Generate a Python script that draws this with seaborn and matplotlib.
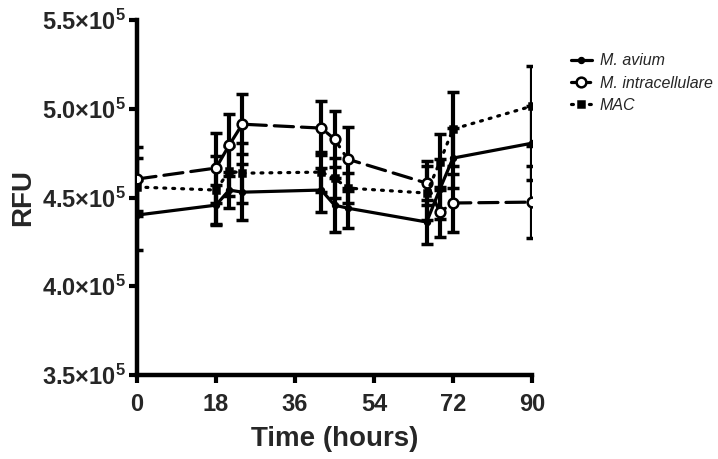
import matplotlib
matplotlib.use("Agg")
import matplotlib.pyplot as plt
import seaborn as sns
import pandas as pd
import numpy as np

# time points (hours)
hours = [0, 18, 21, 24, 42, 45, 48, 66, 69, 72, 90]

# mean RFU and error for each group
avium = [440100, 445700, 454200, 453000, 454200, 445700, 444000, 436200, 454700, 472200, 480600]
avium_err = [19700, 11300, 10100, 15800, 12400, 15200, 11300, 12400, 16900, 16900, 20800]

intra = [460400, 466600, 479500, 491300, 489100, 482900, 471600, 458100, 441800, 446900, 447400]
intra_err = [18000, 19700, 17500, 16900, 15200, 15800, 18000, 12400, 14100, 16300, 20300]

mac = [455900, 454200, 464900, 463700, 464300, 460900, 455300, 452500, 470000, 488500, 501500]
mac_err = [16300, 19100, 14100, 16900, 11300, 11300, 8400, 15200, 15800, 20800, 22500]

y_ticks = [350000, 400000, 450000, 500000, 550000]
y_labels = [r"$\mathbf{3.5{\times}10^{5}}$", r"$\mathbf{4.0{\times}10^{5}}$",
            r"$\mathbf{4.5{\times}10^{5}}$", r"$\mathbf{5.0{\times}10^{5}}$",
            r"$\mathbf{5.5{\times}10^{5}}$"]
x_ticks = [0, 18, 36, 54, 72, 90]

sns.set_theme(style="ticks")
plt.rcParams["font.family"] = ["Liberation Sans", "DejaVu Sans"]
plt.rcParams["mathtext.fontset"] = "custom"
plt.rcParams["mathtext.rm"] = "Liberation Sans"
plt.rcParams["mathtext.bf"] = "Liberation Sans:bold"
plt.rcParams["mathtext.it"] = "Liberation Sans:italic"

fig = plt.figure(figsize=(7.18, 4.59), dpi=100)
ax = fig.add_axes([137 / 718, 1 - 375 / 459, (532 - 137) / 718, (375 - 20) / 459])

series = [
    ("M. avium", avium, avium_err, "-", "o", "black", 3.5),
    ("M. intracellulare", intra, intra_err, (0, (6, 2.5)), "o", "white", 7),
    ("MAC", mac, mac_err, (0, (0.6, 2.2)), "s", "black", 4),
]

for name, vals, errs, ls, mk, face, ms in series:
    df = pd.DataFrame({"hours": hours, "rfu": vals})
    ax.errorbar(df["hours"], df["rfu"], yerr=errs, fmt="none", ecolor="black",
                elinewidth=3, capsize=4.5, capthick=2.5, zorder=2)
    sns.lineplot(data=df, x="hours", y="rfu", ax=ax, color="black", lw=2.3,
                 linestyle=ls, marker=mk, markersize=ms, markerfacecolor=face,
                 markeredgecolor="black", markeredgewidth=1.8, label=name,
                 dash_capstyle="round", zorder=3)

ax.set_xlim(0, 90)
ax.set_ylim(350000, 550000)
ax.set_xticks(x_ticks)
ax.set_xticklabels([str(t) for t in x_ticks], fontsize=17, fontweight="bold")
ax.set_yticks(y_ticks)
ax.set_yticklabels(y_labels, fontsize=17)
ax.set_xlabel("Time (hours)", fontsize=20, fontweight="bold", labelpad=7)
ax.set_ylabel("RFU", fontsize=20, fontweight="bold", labelpad=4)
ax.tick_params(axis="y", width=3, length=6, pad=2, color="black")
ax.tick_params(axis="x", width=3, length=6, pad=7, color="black")

sns.despine(ax=ax)
for side in ("left", "bottom"):
    ax.spines[side].set_linewidth(3.2)
    ax.spines[side].set_color("black")
    ax.spines[side].set_clip_on(False)

ax.legend_.remove()
handles, labels = ax.get_legend_handles_labels()
leg = fig.legend(handles, labels, loc="upper left", bbox_to_anchor=(0.775, 0.915),
                 frameon=False, handlelength=1.3, handletextpad=0.5,
                 labelspacing=0.45, prop={"size": 11.5, "style": "italic"})

fig.savefig("out.png", dpi=100)
